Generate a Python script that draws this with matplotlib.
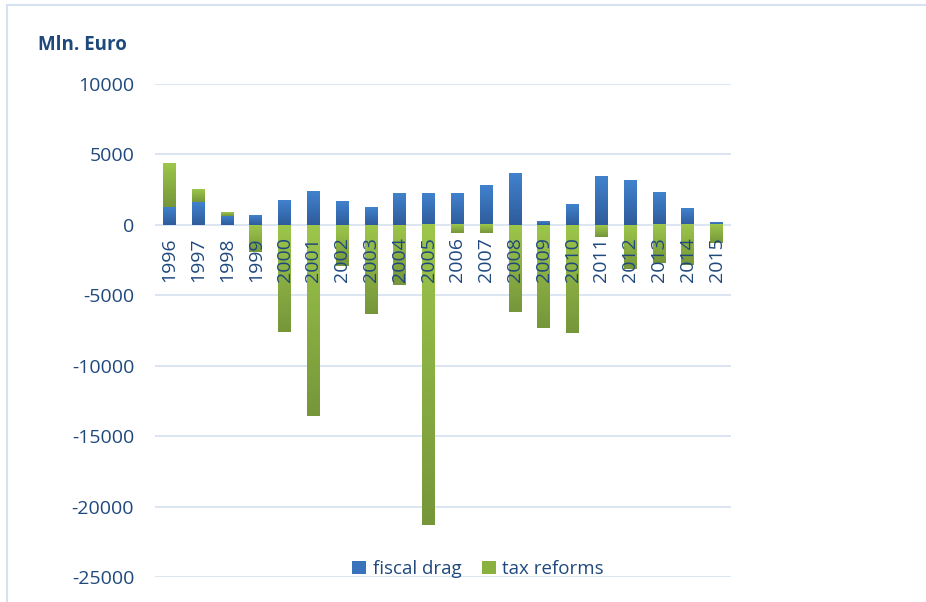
import matplotlib
matplotlib.use("Agg")
import matplotlib.pyplot as plt
import numpy as np
from matplotlib.patches import Rectangle
from matplotlib.colors import LinearSegmentedColormap

years = ["1996", "1997", "1998", "1999", "2000", "2001", "2002", "2003", "2004", "2005",
         "2006", "2007", "2008", "2009", "2010", "2011", "2012", "2013", "2014", "2015"]
fiscal_drag = [1280, 1630, 640, 690, 1750, 2390, 1680, 1250, 2250, 2250,
               2250, 2770, 3670, 260, 1470, 3475, 3170, 2320, 1180, 190]
tax_reforms = [3120, 900, 280, -1900, -7590, -13540, -2900, -6310, -4250, -21340,
               -570, -570, -6170, -7300, -7660, -830, -3100, -2700, -2850, -1300]
yticks = [10000, 5000, 0, -5000, -10000, -15000, -20000, -25000]
ytick_labels = ["10000", "5000", "0", "-5000", "-10000", "-15000", "-20000", "-25000"]

TXT = "#1F497D"
BLUE = "#3A73BC"
GREEN = "#8AB140"
FONT = "Open Sans"

blue_cmap = LinearSegmentedColormap.from_list("b", ["#2E5C9B", "#4182CE"])
green_cmap = LinearSegmentedColormap.from_list("g", ["#76963A", "#9DC64B"])

fig = plt.figure(figsize=(9.26, 6.02), dpi=100)
ax = fig.add_axes([155/926, 25/602, 576/926, 493/602])

x = np.arange(len(years))
fd = np.array(fiscal_drag, dtype=float)
tr = np.array(tax_reforms, dtype=float)
green_bottom = np.where((tr > 0) & (fd > 0), fd, 0.0)

w = 0.45
b1 = ax.bar(x, fd, width=w, color=BLUE, label="fiscal drag", zorder=2)
b2 = ax.bar(x, tr, width=w, bottom=green_bottom, color=GREEN, label="tax reforms", zorder=2)

grad = np.linspace(0, 1, 256).reshape(-1, 1)
for container, cmap in ((b1, blue_cmap), (b2, green_cmap)):
    for p in container.patches:
        x0, y0 = p.get_x(), p.get_y()
        x1, y1 = x0 + p.get_width(), y0 + p.get_height()
        lo, hi = min(y0, y1), max(y0, y1)
        ax.imshow(grad, cmap=cmap, extent=(x0, x1, lo, hi), origin="lower",
                  aspect="auto", zorder=2.1, interpolation="bilinear")

ax.set_xlim(-0.5, len(years) - 0.5)
ax.set_ylim(-25000, 10000)
ax.set_yticks(yticks)
ax.set_yticklabels(ytick_labels, fontsize=14, color=TXT, family=FONT)
ax.tick_params(axis="y", length=0, pad=15)
ax.set_xticks([])
ax.set_axisbelow(True)
ax.yaxis.grid(True, color="#D9E4F2", linewidth=1.3)
for s in ax.spines.values():
    s.set_visible(False)

for xi, lab in zip(x, years):
    ax.annotate(lab, xy=(xi, 0), xytext=(0, -9), textcoords="offset points",
                rotation=90, ha="center", va="top", fontsize=14, color=TXT,
                family=FONT, zorder=5)

fig.text(38/926, 1 - 45/602, "Mln. Euro", fontsize=13.5, fontweight="bold",
         color=TXT, family=FONT, ha="left", va="center")

leg = ax.legend(loc="center", bbox_to_anchor=(478/926, 1 - 569/602),
                bbox_transform=fig.transFigure, ncol=2, frameon=False,
                handlelength=0.75, handleheight=0.75, handletextpad=0.35,
                columnspacing=1.1, prop={"family": FONT, "size": 13.5})
for t in leg.get_texts():
    t.set_color(TXT)

fig.patches.append(Rectangle((7/926, -0.1), 1.2, 1 - 5/602 + 0.1,
                             transform=fig.transFigure, fill=False,
                             edgecolor="#D6E2F2", linewidth=1.5, zorder=0))

fig.savefig("out.png", dpi=100)
